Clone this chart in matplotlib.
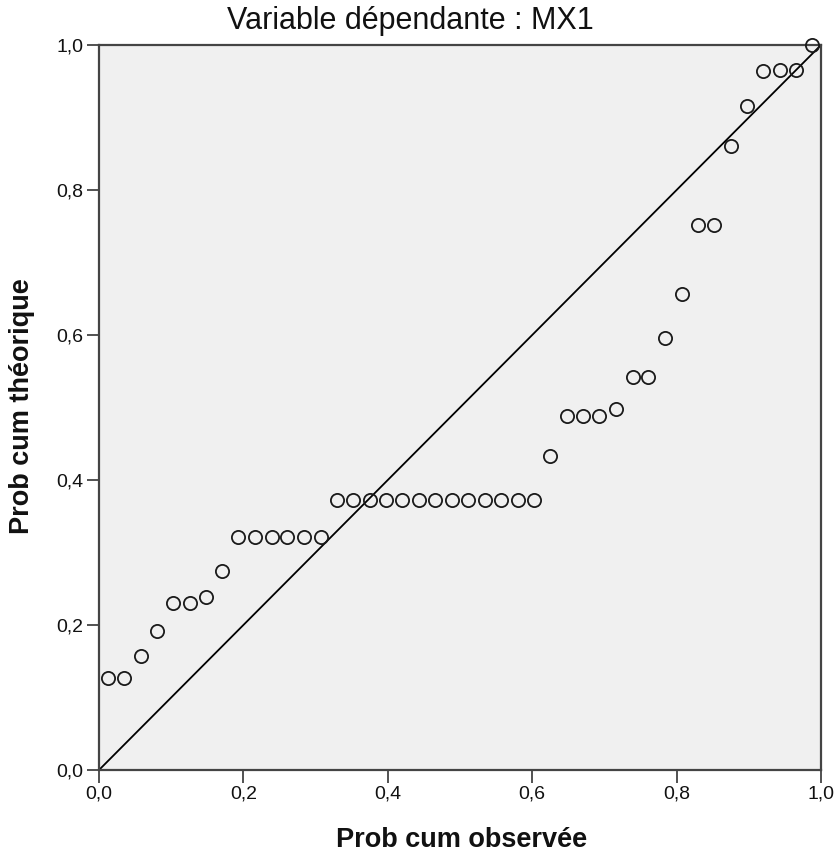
import matplotlib
matplotlib.use("Agg")
import matplotlib.pyplot as plt
from matplotlib.ticker import FuncFormatter

plt.rcParams['font.family'] = ['Liberation Sans', 'DejaVu Sans']

title = "Variable dépendante : MX1"
xlabel = "Prob cum observée"
ylabel = "Prob cum théorique"

obs = [0.012, 0.035, 0.058, 0.080, 0.103, 0.126, 0.148, 0.171, 0.193, 0.216,
       0.239, 0.261, 0.284, 0.307, 0.330, 0.352, 0.375, 0.398, 0.420, 0.443,
       0.466, 0.489, 0.511, 0.534, 0.557, 0.580, 0.602, 0.625, 0.648, 0.670,
       0.693, 0.716, 0.739, 0.761, 0.784, 0.807, 0.830, 0.852, 0.875, 0.898,
       0.920, 0.943, 0.966, 0.988]
theo = [0.127, 0.127, 0.157, 0.192, 0.230, 0.230, 0.239, 0.274, 0.321, 0.321,
        0.321, 0.321, 0.321, 0.321, 0.372, 0.372, 0.372, 0.372, 0.372, 0.372,
        0.372, 0.372, 0.372, 0.372, 0.372, 0.372, 0.372, 0.433, 0.488, 0.488,
        0.488, 0.498, 0.542, 0.542, 0.596, 0.657, 0.752, 0.752, 0.861, 0.916,
        0.964, 0.966, 0.966, 1.000]
ticks = [0.0, 0.2, 0.4, 0.6, 0.8, 1.0]

W, H = 835, 857
fig = plt.figure(figsize=(W/100, H/100), dpi=100)
ax = fig.add_axes([99/W, 87/H, 722/W, 725/H])
ax.set_facecolor('#F0F0F0')
ax.set_xlim(0, 1)
ax.set_ylim(0, 1)

ax.plot([0, 1], [0, 1], color='black', lw=1.3, zorder=2)
ax.plot(obs, theo, linestyle='none', marker='o', markersize=9.5,
        markerfacecolor='none', markeredgecolor='#1a1a1a', markeredgewidth=1.3,
        zorder=3, clip_on=False)

fmt = FuncFormatter(lambda v, p: f"{v:.1f}".replace('.', ','))
ax.set_xticks(ticks)
ax.set_yticks(ticks)
ax.xaxis.set_major_formatter(fmt)
ax.yaxis.set_major_formatter(fmt)
ax.tick_params(direction='out', length=9, width=1.2, labelsize=14,
               colors='#333333', labelcolor='#111111', pad=2)

for s in ax.spines.values():
    s.set_color('#444444')
    s.set_linewidth(1.6)

fig.text(410/W, 1 - 21/H, title, fontsize=22, ha='center', va='center', color='#111111')
fig.text(462/W, 1 - 840/H, xlabel, fontsize=19.5, fontweight='bold',
         ha='center', va='center', color='#111111')
fig.text(22/W, 1 - 406/H, ylabel, fontsize=19.5, fontweight='bold', rotation=90,
         ha='center', va='center', color='#111111')

fig.savefig("out.png", dpi=100, facecolor='white')
